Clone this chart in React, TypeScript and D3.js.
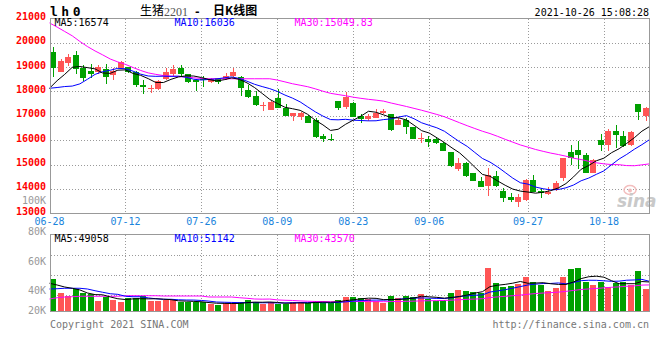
import React from 'react';
import * as d3 from 'd3';

// ---------- data ----------
const dateLabels = ['06-28', '07-12', '07-26', '08-09', '08-23', '09-06', '09-27', '10-18'];
const dateIndex = [0, 10, 20, 30, 40, 50, 63, 73];
const priceTicks = [13000, 14000, 15000, 16000, 17000, 18000, 19000, 20000, 21000];
const volTickLabels = ['100K', '80K', '60K', '40K', '20K'];
const priceLegend = ['MA5:16574', 'MA10:16036', 'MA30:15049.83'];
const volLegend = ['MA5:49058', 'MA10:51142', 'MA30:43570'];

const opens = [19600, 18810, 19150, 19500, 18950, 18850, 18810, 18920, 18680, 18980,
  18990, 18780, 18260, 18090, 18100, 18500, 18720, 18950, 18700, 18470,
  18540, 18400, 18570, 18500, 18630, 18610, 18060, 17810, 17400, 17250,
  17720, 17310, 16990, 16970, 17010, 16830, 16170, 16050, 17610, 17350,
  17510, 16990, 16860, 16920, 17130, 17070, 16620, 16810, 16550, 16030,
  16030, 16060, 15900, 15530, 14820, 15050, 14670, 14320, 14120, 14530,
  13910, 13670, 13480, 13550, 14370, 13930, 13780, 13960, 14430, 15520,
  15600, 15390, 14670, 16010, 15800, 16380, 16170, 15800, 17490, 16990];
const highs = [19820, 19320, 19520, 19670, 19090, 19130, 19090, 19110, 18950, 19250,
  19020, 18840, 18470, 18260, 18470, 18950, 19090, 19090, 18720, 18500,
  18630, 18540, 18570, 18770, 18950, 18630, 18260, 18020, 17550, 17610,
  18100, 17470, 17130, 17170, 17030, 16920, 16250, 16250, 17610, 17960,
  17580, 17060, 17060, 17270, 17270, 17070, 16920, 16900, 16550, 16280,
  16170, 16130, 15940, 15530, 15260, 15120, 14670, 14480, 14840, 14740,
  14020, 13850, 13780, 14410, 14570, 14050, 14090, 14320, 15280, 15800,
  15970, 15490, 15210, 16240, 16460, 16620, 16380, 16380, 17490, 17360];
const lows = [18610, 18780, 19060, 18720, 18430, 18540, 18720, 18310, 18470, 18950,
  18740, 18200, 17900, 17950, 18070, 18470, 18610, 18610, 18350, 18030,
  18200, 18330, 18320, 18470, 18610, 17830, 17720, 17420, 17210, 17240,
  17310, 16990, 16800, 16830, 16690, 16100, 15930, 15950, 17240, 17290,
  16950, 16720, 16790, 16920, 17060, 16390, 16620, 16270, 16030, 15870,
  15730, 15860, 15560, 14910, 14750, 14500, 14320, 14090, 13720, 14090,
  13480, 13450, 13270, 13520, 13860, 13640, 13750, 13910, 14340, 14980,
  14820, 14640, 14640, 15560, 15560, 15690, 15730, 15770, 16830, 16790];
const closes = [18950, 19250, 19430, 18910, 18570, 18720, 18990, 18590, 18840, 19220,
  18780, 18260, 18200, 18160, 18430, 18780, 18910, 18700, 18370, 18400,
  18470, 18500, 18400, 18630, 18780, 18160, 17790, 17430, 17430, 17550,
  17330, 17010, 17130, 17100, 16720, 16130, 16060, 15990, 17330, 17760,
  16970, 16880, 16990, 17130, 17210, 16420, 16830, 16550, 16050, 16100,
  15930, 15870, 15570, 14940, 15080, 14530, 14340, 14090, 14560, 14120,
  13640, 13560, 13670, 14370, 13890, 13830, 13890, 14230, 15260, 15260,
  15390, 14670, 15190, 15800, 16380, 16210, 15760, 16350, 17140, 17330];
const volumes = [54900, 29700, 24800, 36400, 30200, 27400, 15300, 23000, 17100, 14000,
  20200, 21200, 24800, 15300, 15300, 16600, 16600, 14000, 13000, 13000,
  13000, 9400, 8100, 11700, 11700, 13500, 16600, 13000, 10400, 14000,
  9400, 9900, 13000, 13000, 12200, 15300, 12200, 12200, 17100, 23000,
  23000, 20200, 18900, 15300, 11200, 24300, 20200, 24300, 23000, 27900,
  18900, 15300, 17100, 29700, 35100, 33300, 32000, 30200, 75200, 47700,
  41000, 42800, 45400, 59000, 50000, 44100, 33300, 39200, 59000, 72400,
  74200, 50000, 44100, 50000, 41000, 47200, 50000, 44100, 69300, 36900];

// moving-average values before enough days are on screen
const ma5Head = [18130, 18440, 18700, 18990];
const ma10Head = [18130, 18160, 18200, 18220, 18310, 18500, 18700, 18810, 18870];
const ma30Head = [20810, 20640, 20460, 20280, 20050, 19840, 19660, 19500, 19330, 19210,
  19110, 18980, 18860, 18760, 18700, 18650, 18630, 18610, 18590, 18560,
  18530, 18520, 18520, 18520, 18520, 18520, 18520, 18520, 18520];
const volMa5Head = [47200, 44100, 40500, 38200];
const volMa10Head = [36900, 37400, 38200, 38200, 38200, 36900, 33800, 31000, 28400];
const volMa30Head = [18900, 21200, 22500, 23000, 23800, 23800, 23800, 23800, 23800, 23800,
  24800, 24800, 24800, 24800, 24800, 24300, 24300, 24300, 24300, 24300,
  24300, 22500, 22500, 22500, 22500, 21200, 20200, 18900, 18600];

function movingAvg(values: number[], n: number, head: number[]): number[] {
  return values.map((_, i) => (i < n - 1 ? head[i] : (d3.mean(values.slice(i - n + 1, i + 1)) as number)));
}

const RED = '#ff5555';
const GREEN = '#00a000';
const MONO = '"DejaVu Sans Mono", monospace';
const CJK = '"Noto Sans CJK SC"';

export default function App() {
  const L = 50.5, R = 649.5;
  const pTop = 18.5, pBot = 213.5;
  const vTop = 234.5, vBot = 311.5;

  const y = d3.scaleLinear().domain([13000, 21000]).range([213.3, 18.3]);
  const yv = d3.scaleLinear().domain([0, 135000]).range([309.5, 234.5]);
  const xl = d3.scaleLinear().domain([0, closes.length - 1]).range([49.5, 649.5]);
  const xb = d3.scaleBand<number>().domain(d3.range(closes.length)).range([49.25, 649.25]);

  const ma5 = movingAvg(closes, 5, ma5Head);
  const ma10 = movingAvg(closes, 10, ma10Head);
  const ma30 = movingAvg(closes, 30, ma30Head);
  const vma5 = movingAvg(volumes, 5, volMa5Head);
  const vma10 = movingAvg(volumes, 10, volMa10Head);
  const vma30 = movingAvg(volumes, 30, volMa30Head);

  const pLine = d3.line<number>().x((_, i) => xl(i)).y((v) => y(v));
  const vLine = d3.line<number>().x((_, i) => xl(i)).y((v) => yv(v));

  const gridX = dateIndex.filter((d) => d > 0).map((d) => Math.round(xl(d)) + 0.5);
  const gridYP = priceTicks.slice(1, -1).map((v) => Math.round(y(v)) + 0.5);
  const gridYV = [255.5, 275.5, 295.5];
  const volLabelY = [204, 234.5, 264.5, 294, 314];
  const legendX = [54.5, 174.5, 294.5];
  const legendColor = ['#000', '#0000ff', '#ff00ff'];

  return (
    <svg width={660} height={360} style={{ position: 'absolute', left: 0, top: 0, background: '#fff' }}
      fontFamily={MONO}>
      <rect x={0} y={0} width={660} height={360} fill="#fff" />

      {/* header */}
      <text x={50} y={15.5} fontSize={13} fontWeight="bold" letterSpacing={3.5} fill="#000">lh0</text>
      <text x={140} y={15} fontSize={12} fontFamily={CJK} fill="#000">生猪</text>
      <text x={164} y={15.5} fontSize={12} fontFamily='"Liberation Serif"' fill="#555">2201</text>
      <text x={194} y={15} fontSize={11} fontFamily={MONO} fontWeight="bold" fill="#000">-</text>
      <text x={213} y={15} fontSize={12} fontFamily={CJK} fontWeight="bold" fill="#000">日K线图</text>
      <text x={649} y={15.5} fontSize={10} textAnchor="end" fill="#000">2021-10-26 15:08:28</text>

      {/* grids */}
      <g stroke="#9a9a9a" strokeDasharray="1,2" shapeRendering="crispEdges">
        {gridYP.map((gy, k) => <line key={'py' + k} x1={L} x2={R} y1={gy} y2={gy} />)}
        {gridX.map((gx, k) => <line key={'px' + k} x1={gx} x2={gx} y1={pTop} y2={pBot} />)}
        {gridYV.map((gy, k) => <line key={'vy' + k} x1={L} x2={R} y1={gy} y2={gy} />)}
        {gridX.map((gx, k) => <line key={'vx' + k} x1={gx} x2={gx} y1={vTop} y2={vBot} />)}
      </g>

      {/* watermark */}
      <g opacity={0.9}>
        <ellipse cx={630} cy={190} rx={6} ry={4.5} fill="none" stroke="#f2b8b8" strokeWidth={1.5} />
        <circle cx={630} cy={190.5} r={2} fill="#f2b8b8" />
        <text x={617} y={207} fontFamily='"DejaVu Sans"' fontStyle="italic" fontWeight="bold" fontSize={17} fill="#c4c4c4">sina</text>
      </g>

      {/* candles */}
      <g shapeRendering="crispEdges">
        {closes.map((c, i) => {
          const o = opens[i];
          const up = c >= o;
          const bx = Math.round((xb(i) as number) + 0.75);
          const top = Math.round(y(Math.max(o, c)));
          const bot = Math.round(y(Math.min(o, c)));
          const color = up ? RED : GREEN;
          const hy = Math.round(y(highs[i]));
          const ly = Math.round(y(lows[i]));
          return (
            <g key={'c' + i} fill={color}>
              <rect x={bx + 3} y={hy} width={1} height={Math.max(1, ly - hy)} />
              <rect x={bx} y={top} width={6} height={Math.max(1, bot - top)} />
            </g>
          );
        })}
      </g>

      {/* price MA lines */}
      <path d={pLine(ma30) || ''} fill="none" stroke="#ff00ff" strokeWidth={1} />
      <path d={pLine(ma10) || ''} fill="none" stroke="#0000ff" strokeWidth={1} />
      <path d={pLine(ma5) || ''} fill="none" stroke="#000" strokeWidth={1} />

      {/* price frame */}
      <rect x={L} y={pTop} width={R - L} height={pBot - pTop} fill="none" stroke="#999" strokeWidth={1} shapeRendering="crispEdges" />

      {/* price axis labels */}
      {priceTicks.map((v) => (
        <text key={'pt' + v} x={46} y={y(v) + 1.5} fontSize={10} fontWeight="bold" textAnchor="end" fill="#ff0000">{v}</text>
      ))}
      {priceLegend.map((t, k) => (
        <text key={'pl' + k} x={legendX[k]} y={26} fontSize={10} fill={legendColor[k]}>{t}</text>
      ))}

      {/* date labels */}
      {dateIndex.map((d, k) => (
        <text key={'d' + k} x={xl(d)} y={225} fontSize={10} textAnchor="middle" fill="#1a84dc">{dateLabels[k]}</text>
      ))}

      {/* volume bars */}
      <g shapeRendering="crispEdges">
        {volumes.map((v, i) => {
          const up = closes[i] >= opens[i];
          const bx = Math.round((xb(i) as number) + 0.75);
          const top = Math.round(yv(v));
          return <rect key={'v' + i} x={bx} y={top} width={6} height={311 - top} fill={up ? RED : GREEN} />;
        })}
      </g>
      <path d={vLine(vma30) || ''} fill="none" stroke="#ff00ff" strokeWidth={1} />
      <path d={vLine(vma10) || ''} fill="none" stroke="#0000ff" strokeWidth={1} />
      <path d={vLine(vma5) || ''} fill="none" stroke="#000" strokeWidth={1} />

      <rect x={L} y={vTop} width={R - L} height={vBot - vTop} fill="none" stroke="#999" strokeWidth={1} shapeRendering="crispEdges" />

      {volTickLabels.map((t, k) => (
        <text key={'vt' + k} x={46} y={volLabelY[k]} fontSize={10} textAnchor="end" fill="#999">{t}</text>
      ))}
      {volLegend.map((t, k) => (
        <text key={'vl' + k} x={legendX[k]} y={242} fontSize={10} fill={legendColor[k]}>{t}</text>
      ))}

      {/* footer */}
      <text x={50} y={327.5} fontSize={10} fill="#777">Copyright 2021 SINA.COM</text>
      <text x={649} y={327.5} fontSize={10} textAnchor="end" fill="#777">http://finance.sina.com.cn</text>
    </svg>
  );
}
